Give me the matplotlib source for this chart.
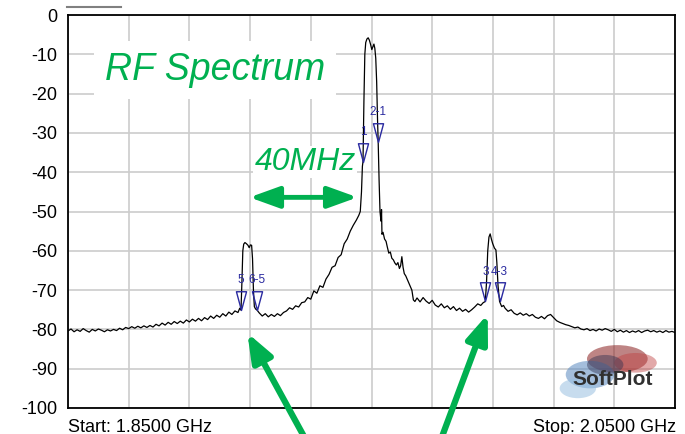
import matplotlib
matplotlib.use('Agg')
import matplotlib.pyplot as plt
from matplotlib.path import Path
from matplotlib.patches import Ellipse
from matplotlib.lines import Line2D
import numpy as np

plt.rcParams['font.family'] = ['Liberation Sans', 'DejaVu Sans']

# ---------------- data ----------------
freq_mhz = [
    1850, 1851, 1852, 1853, 1854, 1855, 1856, 1857, 1858, 1859,
    1860, 1861, 1862, 1863, 1864, 1865, 1866, 1867, 1868, 1869,
    1870, 1871, 1872, 1873, 1874, 1875, 1876, 1877, 1878, 1879,
    1880, 1881, 1882, 1883, 1884, 1885, 1886, 1887, 1888, 1889,
    1890, 1891, 1892, 1893, 1894, 1895, 1896, 1897, 1898, 1899,
    1900, 1901, 1902, 1903, 1904, 1905, 1906, 1906.6, 1907.0,
    1907.3, 1907.6, 1907.9, 1908.3, 1908.8, 1909.3, 1909.7, 1910.1, 1910.5,
    1910.8, 1911.1, 1911.4, 1911.8, 1912.3,
    1913, 1914, 1915, 1916, 1917, 1918, 1919, 1920, 1921, 1922,
    1923, 1924, 1925, 1926, 1927, 1928, 1929, 1930, 1931, 1932,
    1933, 1934, 1935, 1936, 1937, 1938, 1939, 1940, 1941, 1942,
    1943, 1944, 1945, 1945.8, 1946.3, 1946.7, 1947.0, 1947.2,
    1947.5, 1947.8, 1948.1, 1948.5, 1948.9, 1949.3, 1949.7, 1950.1, 1950.5,
    1950.8, 1951.1, 1951.4, 1951.7, 1952.0, 1952.2, 1952.5, 1952.8,
    1953.0, 1953.2, 1953.3, 1953.45, 1953.8, 1954.3, 1954.8, 1955.2, 1955.7,
    1956.2, 1956.7, 1957.2, 1957.7, 1958.2, 1958.7, 1959.2, 1959.6, 1960.0,
    1960.4, 1960.8, 1961.3, 1961.8, 1962.3, 1962.8, 1963.3, 1963.8, 1964.3,
    1965, 1966, 1967, 1968, 1969, 1970, 1971, 1972, 1973, 1974,
    1975, 1976, 1977, 1978, 1979, 1980, 1981, 1982, 1983, 1984,
    1985, 1986, 1986.8, 1987.5,
    1987.9, 1988.3, 1988.7, 1989.1, 1989.5, 1989.9, 1990.5, 1991.0, 1991.3,
    1991.7, 1992.2, 1992.9, 1993.5,
    1994, 1995, 1996, 1997, 1998, 1999, 2000, 2001, 2002, 2003,
    2004, 2005, 2006, 2007, 2008, 2009, 2010, 2011, 2012, 2013,
    2014, 2015, 2016, 2017, 2018, 2019, 2020, 2021, 2022, 2023,
    2024, 2025, 2026, 2027, 2028, 2029, 2030, 2031, 2032, 2033,
    2034, 2035, 2036, 2037, 2038, 2039, 2040, 2041, 2042, 2043,
    2044, 2045, 2046, 2047, 2048, 2049, 2050,
]
level_db = [
    -80.4, -79.9, -80.6, -80.1, -80.5, -79.8, -80.3, -80.7, -80.0, -80.4,
    -79.9, -80.2, -80.6, -80.1, -80.4, -80.0, -80.3, -79.7, -80.1, -79.5,
    -79.8, -79.3, -79.7, -79.2, -79.6, -79.1, -79.5, -79.0, -79.4, -78.7,
    -79.1, -78.4, -78.9, -78.2, -78.7, -78.0, -78.5, -77.9, -78.4, -77.6,
    -78.1, -77.4, -77.9, -77.2, -77.8, -77.0, -77.5, -76.6, -77.2, -76.4,
    -76.9, -76.0, -76.6, -75.6, -76.2, -75.3, -75.7, -74.6, -75.1,
    -68.0, -60.0, -58.3, -57.9, -58.2, -58.6, -59.2, -58.5, -58.6,
    -62.0, -70.0, -74.2, -74.8, -75.1,
    -75.8, -76.6, -76.0, -76.8, -76.2, -76.7, -76.0, -76.5, -75.7, -75.3,
    -74.5, -74.9, -74.0, -74.3, -73.2, -73.0, -71.9, -72.3, -70.2, -70.8,
    -68.9, -69.3, -67.2, -66.0, -64.2, -63.8, -61.7, -61.0, -58.2, -57.0,
    -55.0, -53.5, -52.2, -51.0, -50.0, -45.0, -38.5, -37.3,
    -22.0, -10.0, -7.0, -6.1, -5.8, -6.4, -7.5, -8.8, -8.0,
    -7.4, -8.5, -11.0, -17.0, -27.0, -32.2, -42.0, -50.0,
    -51.5, -52.5, -49.5, -55.8, -55.3, -57.0, -57.6, -59.0, -60.6,
    -60.3, -61.9, -62.3, -63.1, -63.6, -63.0, -64.5, -63.8, -61.5,
    -64.2, -65.8, -66.4, -67.3, -68.2, -69.1, -70.0, -72.5, -72.9,
    -72.0, -73.0, -71.9, -72.8, -73.4, -72.6, -73.8, -74.3, -73.5, -74.5,
    -74.0, -74.9, -74.2, -75.2, -74.6, -75.4, -74.9, -75.6, -75.0, -74.3,
    -73.5, -73.9, -73.2, -72.9,
    -68.0, -60.0, -56.5, -55.7, -57.0, -58.1, -59.3, -59.8, -63.0,
    -69.0, -72.9, -74.2, -73.9,
    -74.6, -75.4, -75.0, -75.9, -76.3, -75.8, -76.4, -76.0, -76.6, -76.2,
    -76.9, -77.2, -76.7, -77.3, -76.5, -76.2, -77.0, -77.8, -78.2, -78.5,
    -78.8, -79.0, -79.3, -79.6, -79.4, -79.9, -80.1, -79.8, -80.3, -80.0,
    -80.4, -79.9, -80.2, -79.8, -80.1, -80.5, -80.0, -80.6, -80.2, -80.7,
    -80.3, -80.8, -80.4, -80.7, -80.3, -80.8, -80.4, -80.2, -80.6, -80.3,
    -80.7, -80.4, -80.8, -80.3, -80.7, -80.5, -80.8,
]
marker_freq = [1907.0, 1912.3, 1947.2, 1952.2, 1987.5, 1992.2]
marker_db = [-75.1, -75.1, -37.3, -32.2, -72.9, -72.9]
marker_labels = ['5', '6-5', '1', '2-1', '3', '4-3']
yticks = [0, -10, -20, -30, -40, -50, -60, -70, -80, -90, -100]
start_label = 'Start: 1.8500 GHz'
stop_label = 'Stop: 2.0500 GHz'
title_text = 'RF Spectrum'
span_text = '40MHz'

GREEN = '#00B050'
NAVY = '#2a2aa0'

W, H = 685, 434
fig = plt.figure(figsize=(W / 100, H / 100), dpi=100)
ax = fig.add_axes([68 / W, 26 / H, 607 / W, 393 / H])
ax.set_xlim(1850, 2050)
ax.set_ylim(-100, 0)
ax.set_xticks(np.arange(1850, 2051, 20))
ax.set_xticklabels([])
ax.set_yticks(yticks)
ax.set_yticklabels([str(t) for t in yticks], fontsize=13)
ax.tick_params(length=0, pad=8)
ax.grid(True, color='#cccccc', lw=1.2)
ax.set_axisbelow(True)
for s in ax.spines.values():
    s.set_linewidth(1.3)
    s.set_color('black')

# logo (behind trace)
logo_parts = [
    ((0.905, 0.125), 0.10, 0.07, '#8a2020', 0.55),
    ((0.935, 0.115), 0.07, 0.05, '#c04040', 0.45),
    ((0.86, 0.085), 0.08, 0.07, '#5a8ac0', 0.55),
    ((0.84, 0.05), 0.06, 0.05, '#9ac0e0', 0.55),
    ((0.885, 0.11), 0.06, 0.05, '#303050', 0.45),
]
for (c, w, h, col, a) in logo_parts:
    ax.add_patch(Ellipse(c, w, h, transform=ax.transAxes, facecolor=col,
                         edgecolor='none', alpha=a, zorder=1.5))
ax.text(0.898, 0.072, 'SoftPlot', transform=ax.transAxes, ha='center',
        va='center', fontsize=15, fontweight='bold', color='#303030', zorder=1.6)

ax.plot(freq_mhz, level_db, color='black', lw=0.9, zorder=3)

# markers
tri = Path([(-0.27, 1.0), (0.27, 1.0), (0.0, 0.0), (-0.27, 1.0)],
           [Path.MOVETO, Path.LINETO, Path.LINETO, Path.CLOSEPOLY])
ax.plot(marker_freq, marker_db, linestyle='none', marker=tri, markersize=27,
        markerfacecolor='none', markeredgecolor=NAVY, markeredgewidth=1.0, zorder=4)
for f, d, lab in zip(marker_freq, marker_db, marker_labels):
    ax.annotate(lab, (f, d), xytext=(0, 21.5), textcoords='offset points',
                ha='center', va='center', fontsize=8.5, color=NAVY, zorder=5)

# annotations
ax.text(1898.4, -14.0, title_text, fontsize=27, style='italic', color=GREEN,
        ha='center', va='center', zorder=6,
        bbox=dict(facecolor='white', edgecolor='none', pad=8))
ax.text(1928.1, -37.4, span_text, fontsize=23, style='italic', color=GREEN,
        ha='center', va='center', zorder=6,
        bbox=dict(facecolor='white', edgecolor='none', pad=1))
ax.annotate('', xy=(1909.8, -46.4), xytext=(1945.4, -46.4),
            arrowprops=dict(arrowstyle='<|-|>,head_length=1.8,head_width=0.65',
                            lw=3.5, color=GREEN, shrinkA=0, shrinkB=0), zorder=6)
for tip, tail in [((1909.1, -80.9), (307, -8)), ((1988.3, -76.1), (440, -8))]:
    ax.annotate('', xy=tip, xycoords='data', xytext=tail,
                textcoords='figure pixels', annotation_clip=False,
                arrowprops=dict(arrowstyle='-|>,head_length=1.7,head_width=0.65',
                                lw=4.5, color=GREEN, shrinkA=0, shrinkB=0), zorder=6)

# figure texts
fig.add_artist(Line2D([67 / W, 121 / W], [1 - 7.3 / H, 1 - 7.3 / H],
                      transform=fig.transFigure, color='#808080', lw=1.5))
fig.text(68 / W, 7 / H, start_label, ha='left', va='center', fontsize=13)
fig.text(676 / W, 7 / H, stop_label, ha='right', va='center', fontsize=13)

fig.savefig('out.png', dpi=100)
